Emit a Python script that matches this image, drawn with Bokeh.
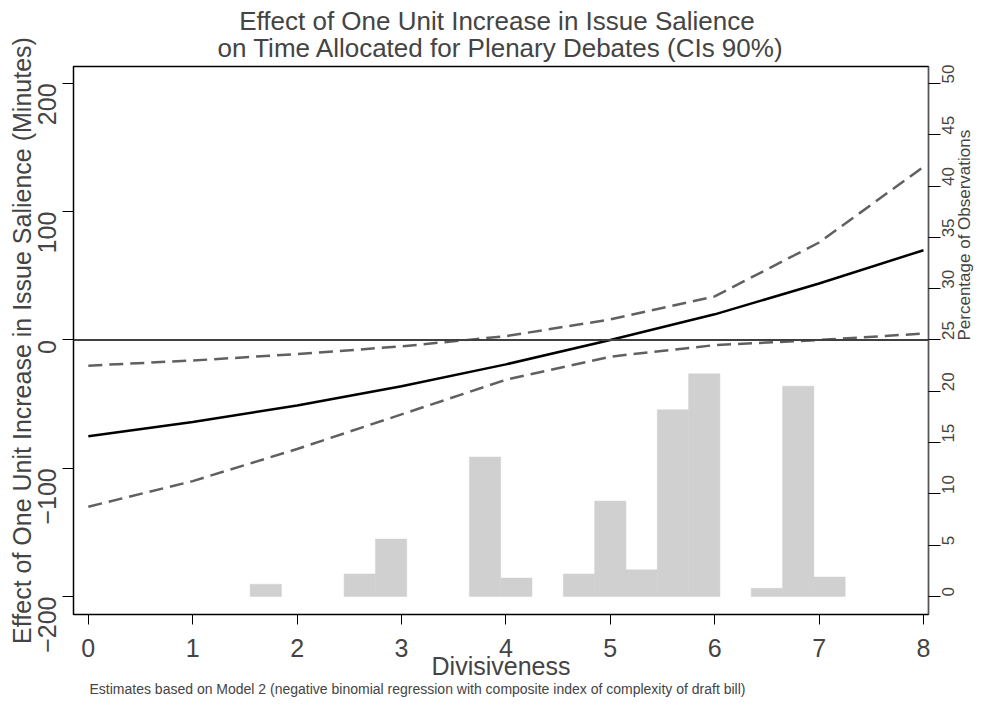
import math
from bokeh.plotting import figure
from bokeh.models import Range1d, LinearAxis, Title, FixedTicker, Span
from bokeh.embed import file_html
from bokeh.resources import INLINE

# ---- data ----
divisiveness = [0, 1, 2, 3, 4, 5, 6, 7, 8]
effect = [-75, -64, -51, -36, -19, 0, 20, 44, 70]
ci_upper = [-20, -16, -11, -5, 3, 16, 34, 76, 135]
ci_lower = [-130, -110, -85, -58, -31, -13, -4, 0, 5]

bin_left = [1.55, 2.45, 2.75, 3.65, 3.95, 4.55, 4.85, 5.15, 5.45, 5.75, 6.35, 6.65, 6.95]
bin_width = 0.3
pct_obs = [1.2, 2.2, 5.6, 13.6, 1.8, 2.2, 9.3, 2.6, 18.2, 21.7, 0.8, 20.5, 1.9]

left_ticks = [-200, -100, 0, 100, 200]
right_ticks = [0, 5, 10, 15, 20, 25, 30, 35, 40, 45, 50]
x_ticks = [0, 1, 2, 3, 4, 5, 6, 7, 8]

title_line1 = "Effect of One Unit Increase in Issue Salience"
title_line2 = "on Time Allocated for Plenary Debates (CIs 90%)"
y_title = "Effect of One Unit Increase in Issue Salience (Minutes)"
right_title = "Percentage of Observations"
x_title = "Divisiveness"
note = "Estimates based on Model 2 (negative binomial regression with composite index of complexity of draft bill)"

FONT = "Liberation Sans"
BIG = "25px"
SMALL = "17px"

y0, y1 = -214.0, 213.2
x0, x1 = -0.142, 8.048
p = figure(width=986, height=702, output_backend="svg", toolbar_location=None,
           x_range=Range1d(x0, x1), y_range=Range1d(y0, y1),
           min_border_left=73, min_border_right=40, min_border_top=0, min_border_bottom=88)
p.extra_y_ranges = {"pct": Range1d((y0 + 200) / 8.0, (y1 + 200) / 8.0)}

p.grid.visible = False
p.background_fill_color = "white"
p.border_fill_color = "white"
p.outline_line_color = "black"
p.outline_line_width = 1.5

# histogram bars
bin_right = [b + bin_width for b in bin_left]
p.quad(left=bin_left, right=bin_right, bottom=0, top=pct_obs, y_range_name="pct",
       fill_color="#d0d0d0", line_color="#d0d0d0", line_width=0.5)

# zero line
p.add_layout(Span(location=0, dimension="width", line_color="#404040", line_width=2))

# CIs and effect
p.line(divisiveness, ci_upper, line_color="#606060", line_width=2.5, line_dash="14 7")
p.line(divisiveness, ci_lower, line_color="#606060", line_width=2.5, line_dash="14 7")
p.line(divisiveness, effect, line_color="black", line_width=2.5)

# axes styling
xa = p.xaxis[0]
xa.ticker = FixedTicker(ticks=x_ticks)
xa.axis_label = x_title
xa.axis_label_text_font = FONT
xa.axis_label_text_font_style = "normal"
xa.axis_label_text_font_size = BIG
xa.axis_label_standoff = -8
xa.major_label_text_font = FONT
xa.major_label_text_font_size = BIG
xa.major_label_standoff = 14
xa.major_tick_out = 10
xa.major_tick_in = 0
xa.minor_tick_out = 0
xa.minor_tick_in = 0
xa.axis_line_color = "black"

ya = p.yaxis[0]
ya.ticker = FixedTicker(ticks=left_ticks)
ya.axis_label = y_title
ya.axis_label_text_font = FONT
ya.axis_label_text_font_style = "normal"
ya.axis_label_text_font_size = BIG
ya.axis_label_standoff = -9
ya.major_label_text_font = FONT
ya.major_label_text_font_size = BIG
ya.major_label_orientation = math.pi / 2
ya.major_label_standoff = 15
ya.major_tick_out = 11
ya.major_tick_in = 0
ya.minor_tick_out = 0
ya.minor_tick_in = 0
ya.axis_line_color = "black"

ra = LinearAxis(y_range_name="pct", ticker=FixedTicker(ticks=right_ticks))
ra.axis_label = right_title
ra.axis_label_text_font = FONT
ra.axis_label_text_font_style = "normal"
ra.axis_label_text_font_size = SMALL
ra.axis_label_standoff = 1
try:
    ra.axis_label_orientation = math.pi / 2
except Exception:
    pass
ra.major_label_text_font = FONT
ra.major_label_text_font_size = SMALL
ra.major_label_orientation = math.pi / 2
ra.major_label_standoff = 8
ra.major_tick_out = 12
ra.major_tick_in = 0
ra.minor_tick_out = 0
ra.minor_tick_in = 0
ra.axis_line_color = "#555555"
p.add_layout(ra, "right")

# two-line title (first line padded so both lines look centred)
title_text = "\u00a0\u00a0\u00a0" + title_line1 + "\n" + title_line2
p.add_layout(Title(text=title_text, align="center", text_font=FONT, text_font_size="26px",
                   text_font_style="normal", text_line_height=0.92, standoff=6), "above")

p.add_layout(Title(text=note, align="left", offset=16, text_font=FONT, text_font_size="14px",
                   text_font_style="normal", standoff=-7), "below")

open("out.html", "w").write(file_html(p, INLINE))
